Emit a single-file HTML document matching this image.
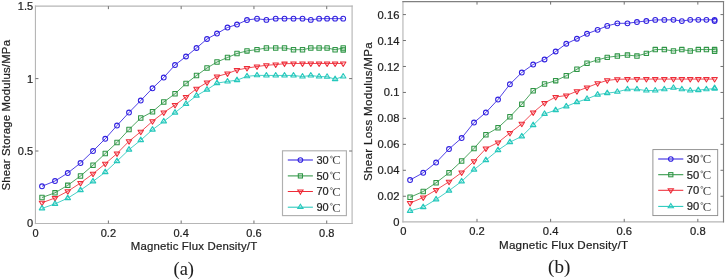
<!DOCTYPE html>
<html><head><meta charset="utf-8"><title>Shear modulus vs magnetic flux density</title>
<style>
html,body{margin:0;padding:0;background:#fff;}
body{width:725px;height:280px;overflow:hidden;font-family:"Liberation Sans",sans-serif;}
svg{display:block;opacity:0.999;will-change:transform;}
svg text{font-family:"Liberation Sans",sans-serif;fill:#1e1e1e;stroke:#1e1e1e;stroke-width:0.22px;}
svg text.sf{font-family:"Liberation Serif",serif;stroke-width:0.08px;}
svg text.dc{font-family:"Liberation Serif",serif;fill:#3c3c3c;stroke:none;}
</style></head>
<body>
<svg width="725" height="280" viewBox="0 0 725 280">
<rect width="725" height="280" fill="#fff"/>
<g fill="none"><path d="M35.45 5.58V224.07" stroke="#b6b6b6" stroke-width="1.15"/>
<path d="M34.88 223.5H352.68" stroke="#b6b6b6" stroke-width="1.15"/>
<path d="M34.88 6.15H352.68" stroke="#b6b6b6" stroke-width="1.15"/>
<path d="M352.1 5.58V224.07" stroke="#b6b6b6" stroke-width="1.15"/>
<path d="M108.38 223.5v-3.0M108.38 6.15v3.0M181.16 223.5v-3.0M181.16 6.15v3.0M253.94 223.5v-3.0M253.94 6.15v3.0M326.73 223.5v-3.0M326.73 6.15v3.0M35.45 151h3.0M352.1 151h-3.0M35.45 78.6h3.0M352.1 78.6h-3.0" stroke="#707070" stroke-width="1"/></g>
<g fill="none" stroke-width="1.05" stroke-linejoin="round">
<polyline points="42,186.25 55,181 67.75,173 80.5,163 93,151 105.25,138.75 117,125.5 129,112.5 140.75,100.5 152.5,88.25 163.75,77.5 175,65 186,56.5 196.5,48 207,39 217,33.5 227.5,27.5 237,24.5 247,20 257,18.7 266.4,19.9 275.7,18.65 284.5,18.65 293.5,18.65 302.5,18.65 310.8,19.9 319.1,18.65 327.1,18.65 335.1,18.65 343.2,18.65" stroke="#3020e0" stroke-width="0.85"/>
<circle cx="42" cy="186.25" r="2.4" stroke="#3020e0"/>
<circle cx="55" cy="181" r="2.4" stroke="#3020e0"/>
<circle cx="67.75" cy="173" r="2.4" stroke="#3020e0"/>
<circle cx="80.5" cy="163" r="2.4" stroke="#3020e0"/>
<circle cx="93" cy="151" r="2.4" stroke="#3020e0"/>
<circle cx="105.25" cy="138.75" r="2.4" stroke="#3020e0"/>
<circle cx="117" cy="125.5" r="2.4" stroke="#3020e0"/>
<circle cx="129" cy="112.5" r="2.4" stroke="#3020e0"/>
<circle cx="140.75" cy="100.5" r="2.4" stroke="#3020e0"/>
<circle cx="152.5" cy="88.25" r="2.4" stroke="#3020e0"/>
<circle cx="163.75" cy="77.5" r="2.4" stroke="#3020e0"/>
<circle cx="175" cy="65" r="2.4" stroke="#3020e0"/>
<circle cx="186" cy="56.5" r="2.4" stroke="#3020e0"/>
<circle cx="196.5" cy="48" r="2.4" stroke="#3020e0"/>
<circle cx="207" cy="39" r="2.4" stroke="#3020e0"/>
<circle cx="217" cy="33.5" r="2.4" stroke="#3020e0"/>
<circle cx="227.5" cy="27.5" r="2.4" stroke="#3020e0"/>
<circle cx="237" cy="24.5" r="2.4" stroke="#3020e0"/>
<circle cx="247" cy="20" r="2.4" stroke="#3020e0"/>
<circle cx="257" cy="18.7" r="2.4" stroke="#3020e0"/>
<circle cx="266.4" cy="19.9" r="2.4" stroke="#3020e0"/>
<circle cx="275.7" cy="18.65" r="2.4" stroke="#3020e0"/>
<circle cx="284.5" cy="18.65" r="2.4" stroke="#3020e0"/>
<circle cx="293.5" cy="18.65" r="2.4" stroke="#3020e0"/>
<circle cx="302.5" cy="18.65" r="2.4" stroke="#3020e0"/>
<circle cx="310.8" cy="19.9" r="2.4" stroke="#3020e0"/>
<circle cx="319.1" cy="18.65" r="2.4" stroke="#3020e0"/>
<circle cx="327.1" cy="18.65" r="2.4" stroke="#3020e0"/>
<circle cx="335.1" cy="18.65" r="2.4" stroke="#3020e0"/>
<circle cx="343.2" cy="18.65" r="2.4" stroke="#3020e0"/>
<polyline points="42,197.5 55,192.8 67.75,185.3 80.5,176 93,165.2 105.25,153.5 117,142.5 129,129.5 140.75,118 152.5,111.75 163.75,102 175,93.75 186,83.5 196.5,75.5 207,68 217,62 227.5,57.5 237,53.5 247,50.9 257,49.6 266.4,48 275.7,48 284.5,48 293.5,49.7 302.5,49.7 310.8,48 319.1,48 327.1,48 335.1,49.7 343.2,48" stroke="#2f9646" stroke-width="0.85"/>
<rect x="39.8" y="195.3" width="4.4" height="4.4" stroke="#2f9646" fill="#2f9646" fill-opacity="0.1"/>
<rect x="52.8" y="190.6" width="4.4" height="4.4" stroke="#2f9646" fill="#2f9646" fill-opacity="0.1"/>
<rect x="65.55" y="183.1" width="4.4" height="4.4" stroke="#2f9646" fill="#2f9646" fill-opacity="0.1"/>
<rect x="78.3" y="173.8" width="4.4" height="4.4" stroke="#2f9646" fill="#2f9646" fill-opacity="0.1"/>
<rect x="90.8" y="163" width="4.4" height="4.4" stroke="#2f9646" fill="#2f9646" fill-opacity="0.1"/>
<rect x="103.05" y="151.3" width="4.4" height="4.4" stroke="#2f9646" fill="#2f9646" fill-opacity="0.1"/>
<rect x="114.8" y="140.3" width="4.4" height="4.4" stroke="#2f9646" fill="#2f9646" fill-opacity="0.1"/>
<rect x="126.8" y="127.3" width="4.4" height="4.4" stroke="#2f9646" fill="#2f9646" fill-opacity="0.1"/>
<rect x="138.55" y="115.8" width="4.4" height="4.4" stroke="#2f9646" fill="#2f9646" fill-opacity="0.1"/>
<rect x="150.3" y="109.55" width="4.4" height="4.4" stroke="#2f9646" fill="#2f9646" fill-opacity="0.1"/>
<rect x="161.55" y="99.8" width="4.4" height="4.4" stroke="#2f9646" fill="#2f9646" fill-opacity="0.1"/>
<rect x="172.8" y="91.55" width="4.4" height="4.4" stroke="#2f9646" fill="#2f9646" fill-opacity="0.1"/>
<rect x="183.8" y="81.3" width="4.4" height="4.4" stroke="#2f9646" fill="#2f9646" fill-opacity="0.1"/>
<rect x="194.3" y="73.3" width="4.4" height="4.4" stroke="#2f9646" fill="#2f9646" fill-opacity="0.1"/>
<rect x="204.8" y="65.8" width="4.4" height="4.4" stroke="#2f9646" fill="#2f9646" fill-opacity="0.1"/>
<rect x="214.8" y="59.8" width="4.4" height="4.4" stroke="#2f9646" fill="#2f9646" fill-opacity="0.1"/>
<rect x="225.3" y="55.3" width="4.4" height="4.4" stroke="#2f9646" fill="#2f9646" fill-opacity="0.1"/>
<rect x="234.8" y="51.3" width="4.4" height="4.4" stroke="#2f9646" fill="#2f9646" fill-opacity="0.1"/>
<rect x="244.8" y="48.7" width="4.4" height="4.4" stroke="#2f9646" fill="#2f9646" fill-opacity="0.1"/>
<rect x="254.8" y="47.4" width="4.4" height="4.4" stroke="#2f9646" fill="#2f9646" fill-opacity="0.1"/>
<rect x="264.2" y="45.8" width="4.4" height="4.4" stroke="#2f9646" fill="#2f9646" fill-opacity="0.1"/>
<rect x="273.5" y="45.8" width="4.4" height="4.4" stroke="#2f9646" fill="#2f9646" fill-opacity="0.1"/>
<rect x="282.3" y="45.8" width="4.4" height="4.4" stroke="#2f9646" fill="#2f9646" fill-opacity="0.1"/>
<rect x="291.3" y="47.5" width="4.4" height="4.4" stroke="#2f9646" fill="#2f9646" fill-opacity="0.1"/>
<rect x="300.3" y="47.5" width="4.4" height="4.4" stroke="#2f9646" fill="#2f9646" fill-opacity="0.1"/>
<rect x="308.6" y="45.8" width="4.4" height="4.4" stroke="#2f9646" fill="#2f9646" fill-opacity="0.1"/>
<rect x="316.9" y="45.8" width="4.4" height="4.4" stroke="#2f9646" fill="#2f9646" fill-opacity="0.1"/>
<rect x="324.9" y="45.8" width="4.4" height="4.4" stroke="#2f9646" fill="#2f9646" fill-opacity="0.1"/>
<rect x="332.9" y="47.5" width="4.4" height="4.4" stroke="#2f9646" fill="#2f9646" fill-opacity="0.1"/>
<rect x="341" y="45.8" width="4.4" height="4.4" stroke="#2f9646" fill="#2f9646" fill-opacity="0.1"/>
<rect x="341" y="47.7" width="4.4" height="4.4" stroke="#2f9646" fill="#2f9646" fill-opacity="0.1"/>
<polyline points="42,202.75 55,198 67.75,191.25 80.5,183 93,173.75 105.25,163.75 117,153.5 129,141.25 140.75,131.75 152.5,121.25 163.75,112.5 175,105 186,97 196.5,88.75 207,82.5 217,76.5 227.5,73.5 237,70 247,68.1 257,66.5 266.4,65.3 275.7,64.6 284.5,63.7 293.5,63.5 302.5,63.5 310.8,63.5 319.1,63.5 327.1,63.5 335.1,63.5 343.2,63.5" stroke="#ee2c38" stroke-width="0.85"/>
<path d="M39.25 201.15H44.75L42 205.65Z" stroke="#ee2c38" fill="#ee2c38" fill-opacity="0.12"/>
<path d="M52.25 196.4H57.75L55 200.9Z" stroke="#ee2c38" fill="#ee2c38" fill-opacity="0.12"/>
<path d="M65 189.65H70.5L67.75 194.15Z" stroke="#ee2c38" fill="#ee2c38" fill-opacity="0.12"/>
<path d="M77.75 181.4H83.25L80.5 185.9Z" stroke="#ee2c38" fill="#ee2c38" fill-opacity="0.12"/>
<path d="M90.25 172.15H95.75L93 176.65Z" stroke="#ee2c38" fill="#ee2c38" fill-opacity="0.12"/>
<path d="M102.5 162.15H108L105.25 166.65Z" stroke="#ee2c38" fill="#ee2c38" fill-opacity="0.12"/>
<path d="M114.25 151.9H119.75L117 156.4Z" stroke="#ee2c38" fill="#ee2c38" fill-opacity="0.12"/>
<path d="M126.25 139.65H131.75L129 144.15Z" stroke="#ee2c38" fill="#ee2c38" fill-opacity="0.12"/>
<path d="M138 130.15H143.5L140.75 134.65Z" stroke="#ee2c38" fill="#ee2c38" fill-opacity="0.12"/>
<path d="M149.75 119.65H155.25L152.5 124.15Z" stroke="#ee2c38" fill="#ee2c38" fill-opacity="0.12"/>
<path d="M161 110.9H166.5L163.75 115.4Z" stroke="#ee2c38" fill="#ee2c38" fill-opacity="0.12"/>
<path d="M172.25 103.4H177.75L175 107.9Z" stroke="#ee2c38" fill="#ee2c38" fill-opacity="0.12"/>
<path d="M183.25 95.4H188.75L186 99.9Z" stroke="#ee2c38" fill="#ee2c38" fill-opacity="0.12"/>
<path d="M193.75 87.15H199.25L196.5 91.65Z" stroke="#ee2c38" fill="#ee2c38" fill-opacity="0.12"/>
<path d="M204.25 80.9H209.75L207 85.4Z" stroke="#ee2c38" fill="#ee2c38" fill-opacity="0.12"/>
<path d="M214.25 74.9H219.75L217 79.4Z" stroke="#ee2c38" fill="#ee2c38" fill-opacity="0.12"/>
<path d="M224.75 71.9H230.25L227.5 76.4Z" stroke="#ee2c38" fill="#ee2c38" fill-opacity="0.12"/>
<path d="M234.25 68.4H239.75L237 72.9Z" stroke="#ee2c38" fill="#ee2c38" fill-opacity="0.12"/>
<path d="M244.25 66.5H249.75L247 71Z" stroke="#ee2c38" fill="#ee2c38" fill-opacity="0.12"/>
<path d="M254.25 64.9H259.75L257 69.4Z" stroke="#ee2c38" fill="#ee2c38" fill-opacity="0.12"/>
<path d="M263.65 63.7H269.15L266.4 68.2Z" stroke="#ee2c38" fill="#ee2c38" fill-opacity="0.12"/>
<path d="M272.95 63H278.45L275.7 67.5Z" stroke="#ee2c38" fill="#ee2c38" fill-opacity="0.12"/>
<path d="M281.75 62.1H287.25L284.5 66.6Z" stroke="#ee2c38" fill="#ee2c38" fill-opacity="0.12"/>
<path d="M290.75 61.9H296.25L293.5 66.4Z" stroke="#ee2c38" fill="#ee2c38" fill-opacity="0.12"/>
<path d="M299.75 61.9H305.25L302.5 66.4Z" stroke="#ee2c38" fill="#ee2c38" fill-opacity="0.12"/>
<path d="M308.05 61.9H313.55L310.8 66.4Z" stroke="#ee2c38" fill="#ee2c38" fill-opacity="0.12"/>
<path d="M316.35 61.9H321.85L319.1 66.4Z" stroke="#ee2c38" fill="#ee2c38" fill-opacity="0.12"/>
<path d="M324.35 61.9H329.85L327.1 66.4Z" stroke="#ee2c38" fill="#ee2c38" fill-opacity="0.12"/>
<path d="M332.35 61.9H337.85L335.1 66.4Z" stroke="#ee2c38" fill="#ee2c38" fill-opacity="0.12"/>
<path d="M340.45 61.9H345.95L343.2 66.4Z" stroke="#ee2c38" fill="#ee2c38" fill-opacity="0.12"/>
<polyline points="42,208.4 55,203.9 67.75,198.15 80.5,190.15 93,181.4 105.25,172.15 117,161.15 129,149.65 140.75,140.15 152.5,129.65 163.75,121.4 175,112.65 186,103.9 196.5,95.65 207,89.65 217,83.15 227.5,81.45 237,80.15 247,76.35 257,75.35 266.4,75.45 275.7,75.45 284.5,75.45 293.5,75.45 302.5,76.55 310.8,75.45 319.1,76.55 327.1,76.75 335.1,79.15 343.2,76.55" stroke="#25c8bc" stroke-width="0.85"/>
<path d="M39.25 209.85H44.75L42 205.4Z" stroke="#25c8bc" fill="#25c8bc" fill-opacity="0.12"/>
<path d="M52.25 205.35H57.75L55 200.9Z" stroke="#25c8bc" fill="#25c8bc" fill-opacity="0.12"/>
<path d="M65 199.6H70.5L67.75 195.15Z" stroke="#25c8bc" fill="#25c8bc" fill-opacity="0.12"/>
<path d="M77.75 191.6H83.25L80.5 187.15Z" stroke="#25c8bc" fill="#25c8bc" fill-opacity="0.12"/>
<path d="M90.25 182.85H95.75L93 178.4Z" stroke="#25c8bc" fill="#25c8bc" fill-opacity="0.12"/>
<path d="M102.5 173.6H108L105.25 169.15Z" stroke="#25c8bc" fill="#25c8bc" fill-opacity="0.12"/>
<path d="M114.25 162.6H119.75L117 158.15Z" stroke="#25c8bc" fill="#25c8bc" fill-opacity="0.12"/>
<path d="M126.25 151.1H131.75L129 146.65Z" stroke="#25c8bc" fill="#25c8bc" fill-opacity="0.12"/>
<path d="M138 141.6H143.5L140.75 137.15Z" stroke="#25c8bc" fill="#25c8bc" fill-opacity="0.12"/>
<path d="M149.75 131.1H155.25L152.5 126.65Z" stroke="#25c8bc" fill="#25c8bc" fill-opacity="0.12"/>
<path d="M161 122.85H166.5L163.75 118.4Z" stroke="#25c8bc" fill="#25c8bc" fill-opacity="0.12"/>
<path d="M172.25 114.1H177.75L175 109.65Z" stroke="#25c8bc" fill="#25c8bc" fill-opacity="0.12"/>
<path d="M183.25 105.35H188.75L186 100.9Z" stroke="#25c8bc" fill="#25c8bc" fill-opacity="0.12"/>
<path d="M193.75 97.1H199.25L196.5 92.65Z" stroke="#25c8bc" fill="#25c8bc" fill-opacity="0.12"/>
<path d="M204.25 91.1H209.75L207 86.65Z" stroke="#25c8bc" fill="#25c8bc" fill-opacity="0.12"/>
<path d="M214.25 84.6H219.75L217 80.15Z" stroke="#25c8bc" fill="#25c8bc" fill-opacity="0.12"/>
<path d="M224.75 82.9H230.25L227.5 78.45Z" stroke="#25c8bc" fill="#25c8bc" fill-opacity="0.12"/>
<path d="M234.25 81.6H239.75L237 77.15Z" stroke="#25c8bc" fill="#25c8bc" fill-opacity="0.12"/>
<path d="M244.25 77.8H249.75L247 73.35Z" stroke="#25c8bc" fill="#25c8bc" fill-opacity="0.12"/>
<path d="M254.25 76.8H259.75L257 72.35Z" stroke="#25c8bc" fill="#25c8bc" fill-opacity="0.12"/>
<path d="M263.65 76.9H269.15L266.4 72.45Z" stroke="#25c8bc" fill="#25c8bc" fill-opacity="0.12"/>
<path d="M272.95 76.9H278.45L275.7 72.45Z" stroke="#25c8bc" fill="#25c8bc" fill-opacity="0.12"/>
<path d="M281.75 76.9H287.25L284.5 72.45Z" stroke="#25c8bc" fill="#25c8bc" fill-opacity="0.12"/>
<path d="M290.75 76.9H296.25L293.5 72.45Z" stroke="#25c8bc" fill="#25c8bc" fill-opacity="0.12"/>
<path d="M299.75 78H305.25L302.5 73.55Z" stroke="#25c8bc" fill="#25c8bc" fill-opacity="0.12"/>
<path d="M308.05 76.9H313.55L310.8 72.45Z" stroke="#25c8bc" fill="#25c8bc" fill-opacity="0.12"/>
<path d="M316.35 78H321.85L319.1 73.55Z" stroke="#25c8bc" fill="#25c8bc" fill-opacity="0.12"/>
<path d="M324.35 78.2H329.85L327.1 73.75Z" stroke="#25c8bc" fill="#25c8bc" fill-opacity="0.12"/>
<path d="M332.35 80.6H337.85L335.1 76.15Z" stroke="#25c8bc" fill="#25c8bc" fill-opacity="0.12"/>
<path d="M340.45 78H345.95L343.2 73.55Z" stroke="#25c8bc" fill="#25c8bc" fill-opacity="0.12"/>
</g>
<text x="35.6" y="236.7" text-anchor="middle" font-size="11">0</text>
<text x="108.38" y="236.7" text-anchor="middle" font-size="11">0.2</text>
<text x="181.16" y="236.7" text-anchor="middle" font-size="11">0.4</text>
<text x="253.94" y="236.7" text-anchor="middle" font-size="11">0.6</text>
<text x="326.73" y="236.7" text-anchor="middle" font-size="11">0.8</text>
<text x="33.1" y="227.36" text-anchor="end" font-size="11">0</text>
<text x="33.1" y="154.96" text-anchor="end" font-size="11">0.5</text>
<text x="33.1" y="82.56" text-anchor="end" font-size="11">1</text>
<text x="33.1" y="10.16" text-anchor="end" font-size="11">1.5</text>
<rect x="282.5" y="150.8" width="63.9" height="64.8" fill="#fff" stroke="#b0b0b0" stroke-width="1.15"/>
<g fill="none" stroke-width="1.05"><path d="M287.8 160H312.9" stroke="#3020e0"/><circle cx="300.4" cy="160" r="2.3" stroke="#3020e0"/></g>
<text x="316.4" y="163.96" font-size="11">30</text>
<circle cx="331.4" cy="157.1" r="1.0" fill="none" stroke="#4a4a4a" stroke-width="0.6"/>
<text class="dc" x="332.3" y="164.3" font-size="12.6">C</text>
<g fill="none" stroke-width="1.05"><path d="M287.8 175.9H312.9" stroke="#2f9646"/><rect x="298.3" y="173.8" width="4.2" height="4.2" stroke="#2f9646" fill="#2f9646" fill-opacity="0.1"/></g>
<text x="316.4" y="179.86" font-size="11">50</text>
<circle cx="331.4" cy="173" r="1.0" fill="none" stroke="#4a4a4a" stroke-width="0.6"/>
<text class="dc" x="332.3" y="180.2" font-size="12.6">C</text>
<g fill="none" stroke-width="1.05"><path d="M287.8 191.5H312.9" stroke="#ee2c38"/><path d="M297.76 189.97H303.04L300.4 194.28Z" stroke="#ee2c38" fill="#ee2c38" fill-opacity="0.12"/></g>
<text x="316.4" y="195.46" font-size="11">70</text>
<circle cx="331.4" cy="188.6" r="1.0" fill="none" stroke="#4a4a4a" stroke-width="0.6"/>
<text class="dc" x="332.3" y="195.8" font-size="12.6">C</text>
<g fill="none" stroke-width="1.05"><path d="M287.8 207.2H312.9" stroke="#25c8bc"/><path d="M297.76 208.59H303.04L300.4 204.32Z" stroke="#25c8bc" fill="#25c8bc" fill-opacity="0.12"/></g>
<text x="316.4" y="211.16" font-size="11">90</text>
<circle cx="331.4" cy="204.3" r="1.0" fill="none" stroke="#4a4a4a" stroke-width="0.6"/>
<text class="dc" x="332.3" y="211.5" font-size="12.6">C</text>
<text x="130.8" y="250" textLength="126.3" lengthAdjust="spacing" font-size="11.4">Magnetic Flux Density/T</text>
<text transform="translate(10.4 190.6) rotate(-90)" textLength="150.6" lengthAdjust="spacing" font-size="11.4">Shear Storage Modulus/MPa</text>
<text x="183.8" y="274.8" text-anchor="middle" font-size="18.4" class="sf">(a)</text>
<g fill="none"><path d="M402.95 1.03V222.42" stroke="#b6b6b6" stroke-width="1.15"/>
<path d="M402.38 221.85H724.08" stroke="#b6b6b6" stroke-width="1.15"/>
<path d="M402.38 1.6H724.08" stroke="#808080" stroke-width="1.15"/>
<path d="M723.5 1.03V222.42" stroke="#808080" stroke-width="1.15"/>
<path d="M477.01 221.85v-3.0M477.01 1.6v3.0M550.62 221.85v-3.0M550.62 1.6v3.0M624.23 221.85v-3.0M624.23 1.6v3.0M697.84 221.85v-3.0M697.84 1.6v3.0M402.95 196.25h3.0M723.5 196.25h-3.0M402.95 170.29h3.0M723.5 170.29h-3.0M402.95 144.34h3.0M723.5 144.34h-3.0M402.95 118.39h3.0M723.5 118.39h-3.0M402.95 92.44h3.0M723.5 92.44h-3.0M402.95 66.48h3.0M723.5 66.48h-3.0M402.95 40.53h3.0M723.5 40.53h-3.0M402.95 14.58h3.0M723.5 14.58h-3.0" stroke="#707070" stroke-width="1"/></g>
<g fill="none" stroke-width="1.05" stroke-linejoin="round">
<polyline points="410.07,180 423.22,172.75 436.11,162.5 449,149 461.64,138 474.02,122.5 485.9,112.5 498.03,99.5 509.91,84.25 521.79,72.5 533.17,64.5 544.54,59.5 555.66,51.5 566.28,43.75 576.9,38.75 587.01,33.75 597.62,29.8 607.23,25.9 617.34,23.3 627.45,23.3 636.95,22 646.36,21 655.25,19.9 664.35,19.9 673.45,19.8 681.84,21.1 690.24,19.8 698.32,19.8 706.41,19.8 714.6,19.8" stroke="#3020e0" stroke-width="0.85"/>
<circle cx="410.07" cy="180" r="2.4" stroke="#3020e0"/>
<circle cx="423.22" cy="172.75" r="2.4" stroke="#3020e0"/>
<circle cx="436.11" cy="162.5" r="2.4" stroke="#3020e0"/>
<circle cx="449" cy="149" r="2.4" stroke="#3020e0"/>
<circle cx="461.64" cy="138" r="2.4" stroke="#3020e0"/>
<circle cx="474.02" cy="122.5" r="2.4" stroke="#3020e0"/>
<circle cx="485.9" cy="112.5" r="2.4" stroke="#3020e0"/>
<circle cx="498.03" cy="99.5" r="2.4" stroke="#3020e0"/>
<circle cx="509.91" cy="84.25" r="2.4" stroke="#3020e0"/>
<circle cx="521.79" cy="72.5" r="2.4" stroke="#3020e0"/>
<circle cx="533.17" cy="64.5" r="2.4" stroke="#3020e0"/>
<circle cx="544.54" cy="59.5" r="2.4" stroke="#3020e0"/>
<circle cx="555.66" cy="51.5" r="2.4" stroke="#3020e0"/>
<circle cx="566.28" cy="43.75" r="2.4" stroke="#3020e0"/>
<circle cx="576.9" cy="38.75" r="2.4" stroke="#3020e0"/>
<circle cx="587.01" cy="33.75" r="2.4" stroke="#3020e0"/>
<circle cx="597.62" cy="29.8" r="2.4" stroke="#3020e0"/>
<circle cx="607.23" cy="25.9" r="2.4" stroke="#3020e0"/>
<circle cx="617.34" cy="23.3" r="2.4" stroke="#3020e0"/>
<circle cx="627.45" cy="23.3" r="2.4" stroke="#3020e0"/>
<circle cx="636.95" cy="22" r="2.4" stroke="#3020e0"/>
<circle cx="646.36" cy="21" r="2.4" stroke="#3020e0"/>
<circle cx="655.25" cy="19.9" r="2.4" stroke="#3020e0"/>
<circle cx="664.35" cy="19.9" r="2.4" stroke="#3020e0"/>
<circle cx="673.45" cy="19.8" r="2.4" stroke="#3020e0"/>
<circle cx="681.84" cy="21.1" r="2.4" stroke="#3020e0"/>
<circle cx="690.24" cy="19.8" r="2.4" stroke="#3020e0"/>
<circle cx="698.32" cy="19.8" r="2.4" stroke="#3020e0"/>
<circle cx="706.41" cy="19.8" r="2.4" stroke="#3020e0"/>
<circle cx="714.6" cy="19.8" r="2.4" stroke="#3020e0"/>
<circle cx="714.6" cy="21" r="2.4" stroke="#3020e0"/>
<polyline points="410.07,197.25 423.22,191.5 436.11,182.75 449,172.75 461.64,161 474.02,148.45 485.9,134.75 498.03,127.75 509.91,116.75 521.79,104.25 533.17,90.75 544.54,84 555.66,80.65 566.28,75.75 576.9,69.25 587.01,63.25 597.62,59.85 607.23,57.35 617.34,56.05 627.45,55.05 636.95,56.05 646.36,53.35 655.25,49.55 664.35,49.55 673.45,50.95 681.84,49.55 690.24,50.95 698.32,49.55 706.41,49.55 714.6,49.55" stroke="#2f9646" stroke-width="0.85"/>
<rect x="407.87" y="195.05" width="4.4" height="4.4" stroke="#2f9646" fill="#2f9646" fill-opacity="0.1"/>
<rect x="421.02" y="189.3" width="4.4" height="4.4" stroke="#2f9646" fill="#2f9646" fill-opacity="0.1"/>
<rect x="433.91" y="180.55" width="4.4" height="4.4" stroke="#2f9646" fill="#2f9646" fill-opacity="0.1"/>
<rect x="446.8" y="170.55" width="4.4" height="4.4" stroke="#2f9646" fill="#2f9646" fill-opacity="0.1"/>
<rect x="459.44" y="158.8" width="4.4" height="4.4" stroke="#2f9646" fill="#2f9646" fill-opacity="0.1"/>
<rect x="471.82" y="146.25" width="4.4" height="4.4" stroke="#2f9646" fill="#2f9646" fill-opacity="0.1"/>
<rect x="483.7" y="132.55" width="4.4" height="4.4" stroke="#2f9646" fill="#2f9646" fill-opacity="0.1"/>
<rect x="495.83" y="125.55" width="4.4" height="4.4" stroke="#2f9646" fill="#2f9646" fill-opacity="0.1"/>
<rect x="507.71" y="114.55" width="4.4" height="4.4" stroke="#2f9646" fill="#2f9646" fill-opacity="0.1"/>
<rect x="519.59" y="102.05" width="4.4" height="4.4" stroke="#2f9646" fill="#2f9646" fill-opacity="0.1"/>
<rect x="530.97" y="88.55" width="4.4" height="4.4" stroke="#2f9646" fill="#2f9646" fill-opacity="0.1"/>
<rect x="542.34" y="81.8" width="4.4" height="4.4" stroke="#2f9646" fill="#2f9646" fill-opacity="0.1"/>
<rect x="553.46" y="78.45" width="4.4" height="4.4" stroke="#2f9646" fill="#2f9646" fill-opacity="0.1"/>
<rect x="564.08" y="73.55" width="4.4" height="4.4" stroke="#2f9646" fill="#2f9646" fill-opacity="0.1"/>
<rect x="574.7" y="67.05" width="4.4" height="4.4" stroke="#2f9646" fill="#2f9646" fill-opacity="0.1"/>
<rect x="584.81" y="61.05" width="4.4" height="4.4" stroke="#2f9646" fill="#2f9646" fill-opacity="0.1"/>
<rect x="595.42" y="57.65" width="4.4" height="4.4" stroke="#2f9646" fill="#2f9646" fill-opacity="0.1"/>
<rect x="605.03" y="55.15" width="4.4" height="4.4" stroke="#2f9646" fill="#2f9646" fill-opacity="0.1"/>
<rect x="615.14" y="53.85" width="4.4" height="4.4" stroke="#2f9646" fill="#2f9646" fill-opacity="0.1"/>
<rect x="625.25" y="52.85" width="4.4" height="4.4" stroke="#2f9646" fill="#2f9646" fill-opacity="0.1"/>
<rect x="634.75" y="53.85" width="4.4" height="4.4" stroke="#2f9646" fill="#2f9646" fill-opacity="0.1"/>
<rect x="644.16" y="51.15" width="4.4" height="4.4" stroke="#2f9646" fill="#2f9646" fill-opacity="0.1"/>
<rect x="653.05" y="47.35" width="4.4" height="4.4" stroke="#2f9646" fill="#2f9646" fill-opacity="0.1"/>
<rect x="662.15" y="47.35" width="4.4" height="4.4" stroke="#2f9646" fill="#2f9646" fill-opacity="0.1"/>
<rect x="671.25" y="48.75" width="4.4" height="4.4" stroke="#2f9646" fill="#2f9646" fill-opacity="0.1"/>
<rect x="679.64" y="47.35" width="4.4" height="4.4" stroke="#2f9646" fill="#2f9646" fill-opacity="0.1"/>
<rect x="688.04" y="48.75" width="4.4" height="4.4" stroke="#2f9646" fill="#2f9646" fill-opacity="0.1"/>
<rect x="696.12" y="47.35" width="4.4" height="4.4" stroke="#2f9646" fill="#2f9646" fill-opacity="0.1"/>
<rect x="704.21" y="47.35" width="4.4" height="4.4" stroke="#2f9646" fill="#2f9646" fill-opacity="0.1"/>
<rect x="712.4" y="47.35" width="4.4" height="4.4" stroke="#2f9646" fill="#2f9646" fill-opacity="0.1"/>
<rect x="712.4" y="49" width="4.4" height="4.4" stroke="#2f9646" fill="#2f9646" fill-opacity="0.1"/>
<polyline points="410.07,203 423.22,197.5 436.11,190 449,181.75 461.64,172.5 474.02,161.25 485.9,148.6 498.03,142.5 509.91,133 521.79,123.75 533.17,112.5 544.54,103 555.66,97 566.28,95.5 576.9,91.25 587.01,87.5 597.62,83.4 607.23,80.4 617.34,79.3 627.45,79.1 636.95,79.1 646.36,79.1 655.25,79.1 664.35,79.1 673.45,79.1 681.84,79.1 690.24,79.1 698.32,79.1 706.41,79.1 714.6,79.1" stroke="#ee2c38" stroke-width="0.85"/>
<path d="M407.32 201.4H412.82L410.07 205.9Z" stroke="#ee2c38" fill="#ee2c38" fill-opacity="0.12"/>
<path d="M420.47 195.9H425.97L423.22 200.4Z" stroke="#ee2c38" fill="#ee2c38" fill-opacity="0.12"/>
<path d="M433.36 188.4H438.86L436.11 192.9Z" stroke="#ee2c38" fill="#ee2c38" fill-opacity="0.12"/>
<path d="M446.25 180.15H451.75L449 184.65Z" stroke="#ee2c38" fill="#ee2c38" fill-opacity="0.12"/>
<path d="M458.89 170.9H464.39L461.64 175.4Z" stroke="#ee2c38" fill="#ee2c38" fill-opacity="0.12"/>
<path d="M471.27 159.65H476.77L474.02 164.15Z" stroke="#ee2c38" fill="#ee2c38" fill-opacity="0.12"/>
<path d="M483.15 147H488.65L485.9 151.5Z" stroke="#ee2c38" fill="#ee2c38" fill-opacity="0.12"/>
<path d="M495.28 140.9H500.78L498.03 145.4Z" stroke="#ee2c38" fill="#ee2c38" fill-opacity="0.12"/>
<path d="M507.16 131.4H512.66L509.91 135.9Z" stroke="#ee2c38" fill="#ee2c38" fill-opacity="0.12"/>
<path d="M519.04 122.15H524.54L521.79 126.65Z" stroke="#ee2c38" fill="#ee2c38" fill-opacity="0.12"/>
<path d="M530.42 110.9H535.92L533.17 115.4Z" stroke="#ee2c38" fill="#ee2c38" fill-opacity="0.12"/>
<path d="M541.79 101.4H547.29L544.54 105.9Z" stroke="#ee2c38" fill="#ee2c38" fill-opacity="0.12"/>
<path d="M552.91 95.4H558.41L555.66 99.9Z" stroke="#ee2c38" fill="#ee2c38" fill-opacity="0.12"/>
<path d="M563.53 93.9H569.03L566.28 98.4Z" stroke="#ee2c38" fill="#ee2c38" fill-opacity="0.12"/>
<path d="M574.15 89.65H579.65L576.9 94.15Z" stroke="#ee2c38" fill="#ee2c38" fill-opacity="0.12"/>
<path d="M584.26 85.9H589.76L587.01 90.4Z" stroke="#ee2c38" fill="#ee2c38" fill-opacity="0.12"/>
<path d="M594.87 81.8H600.37L597.62 86.3Z" stroke="#ee2c38" fill="#ee2c38" fill-opacity="0.12"/>
<path d="M604.48 78.8H609.98L607.23 83.3Z" stroke="#ee2c38" fill="#ee2c38" fill-opacity="0.12"/>
<path d="M614.59 77.7H620.09L617.34 82.2Z" stroke="#ee2c38" fill="#ee2c38" fill-opacity="0.12"/>
<path d="M624.7 77.5H630.2L627.45 82Z" stroke="#ee2c38" fill="#ee2c38" fill-opacity="0.12"/>
<path d="M634.2 77.5H639.7L636.95 82Z" stroke="#ee2c38" fill="#ee2c38" fill-opacity="0.12"/>
<path d="M643.61 77.5H649.11L646.36 82Z" stroke="#ee2c38" fill="#ee2c38" fill-opacity="0.12"/>
<path d="M652.5 77.5H658L655.25 82Z" stroke="#ee2c38" fill="#ee2c38" fill-opacity="0.12"/>
<path d="M661.6 77.5H667.1L664.35 82Z" stroke="#ee2c38" fill="#ee2c38" fill-opacity="0.12"/>
<path d="M670.7 77.5H676.2L673.45 82Z" stroke="#ee2c38" fill="#ee2c38" fill-opacity="0.12"/>
<path d="M679.09 77.5H684.59L681.84 82Z" stroke="#ee2c38" fill="#ee2c38" fill-opacity="0.12"/>
<path d="M687.49 77.5H692.99L690.24 82Z" stroke="#ee2c38" fill="#ee2c38" fill-opacity="0.12"/>
<path d="M695.57 77.5H701.07L698.32 82Z" stroke="#ee2c38" fill="#ee2c38" fill-opacity="0.12"/>
<path d="M703.66 77.5H709.16L706.41 82Z" stroke="#ee2c38" fill="#ee2c38" fill-opacity="0.12"/>
<path d="M711.85 77.5H717.35L714.6 82Z" stroke="#ee2c38" fill="#ee2c38" fill-opacity="0.12"/>
<polyline points="410.07,210.9 423.22,207.15 436.11,199.4 449,190.65 461.64,181.4 474.02,169.65 485.9,160.15 498.03,150.15 509.91,142.15 521.79,136.4 533.17,125.15 544.54,113.9 555.66,110.15 566.28,106.4 576.9,102.15 587.01,98.9 597.62,94.65 607.23,93.15 617.34,91.85 627.45,89.25 636.95,89.25 646.36,90.55 655.25,90.55 664.35,89.25 673.45,87.85 681.84,89.25 690.24,90.55 698.32,90.15 706.41,89.25 714.6,88.65" stroke="#25c8bc" stroke-width="0.85"/>
<path d="M407.32 212.35H412.82L410.07 207.9Z" stroke="#25c8bc" fill="#25c8bc" fill-opacity="0.12"/>
<path d="M420.47 208.6H425.97L423.22 204.15Z" stroke="#25c8bc" fill="#25c8bc" fill-opacity="0.12"/>
<path d="M433.36 200.85H438.86L436.11 196.4Z" stroke="#25c8bc" fill="#25c8bc" fill-opacity="0.12"/>
<path d="M446.25 192.1H451.75L449 187.65Z" stroke="#25c8bc" fill="#25c8bc" fill-opacity="0.12"/>
<path d="M458.89 182.85H464.39L461.64 178.4Z" stroke="#25c8bc" fill="#25c8bc" fill-opacity="0.12"/>
<path d="M471.27 171.1H476.77L474.02 166.65Z" stroke="#25c8bc" fill="#25c8bc" fill-opacity="0.12"/>
<path d="M483.15 161.6H488.65L485.9 157.15Z" stroke="#25c8bc" fill="#25c8bc" fill-opacity="0.12"/>
<path d="M495.28 151.6H500.78L498.03 147.15Z" stroke="#25c8bc" fill="#25c8bc" fill-opacity="0.12"/>
<path d="M507.16 143.6H512.66L509.91 139.15Z" stroke="#25c8bc" fill="#25c8bc" fill-opacity="0.12"/>
<path d="M519.04 137.85H524.54L521.79 133.4Z" stroke="#25c8bc" fill="#25c8bc" fill-opacity="0.12"/>
<path d="M530.42 126.6H535.92L533.17 122.15Z" stroke="#25c8bc" fill="#25c8bc" fill-opacity="0.12"/>
<path d="M541.79 115.35H547.29L544.54 110.9Z" stroke="#25c8bc" fill="#25c8bc" fill-opacity="0.12"/>
<path d="M552.91 111.6H558.41L555.66 107.15Z" stroke="#25c8bc" fill="#25c8bc" fill-opacity="0.12"/>
<path d="M563.53 107.85H569.03L566.28 103.4Z" stroke="#25c8bc" fill="#25c8bc" fill-opacity="0.12"/>
<path d="M574.15 103.6H579.65L576.9 99.15Z" stroke="#25c8bc" fill="#25c8bc" fill-opacity="0.12"/>
<path d="M584.26 100.35H589.76L587.01 95.9Z" stroke="#25c8bc" fill="#25c8bc" fill-opacity="0.12"/>
<path d="M594.87 96.1H600.37L597.62 91.65Z" stroke="#25c8bc" fill="#25c8bc" fill-opacity="0.12"/>
<path d="M604.48 94.6H609.98L607.23 90.15Z" stroke="#25c8bc" fill="#25c8bc" fill-opacity="0.12"/>
<path d="M614.59 93.3H620.09L617.34 88.85Z" stroke="#25c8bc" fill="#25c8bc" fill-opacity="0.12"/>
<path d="M624.7 90.7H630.2L627.45 86.25Z" stroke="#25c8bc" fill="#25c8bc" fill-opacity="0.12"/>
<path d="M634.2 90.7H639.7L636.95 86.25Z" stroke="#25c8bc" fill="#25c8bc" fill-opacity="0.12"/>
<path d="M643.61 92H649.11L646.36 87.55Z" stroke="#25c8bc" fill="#25c8bc" fill-opacity="0.12"/>
<path d="M652.5 92H658L655.25 87.55Z" stroke="#25c8bc" fill="#25c8bc" fill-opacity="0.12"/>
<path d="M661.6 90.7H667.1L664.35 86.25Z" stroke="#25c8bc" fill="#25c8bc" fill-opacity="0.12"/>
<path d="M670.7 89.3H676.2L673.45 84.85Z" stroke="#25c8bc" fill="#25c8bc" fill-opacity="0.12"/>
<path d="M679.09 90.7H684.59L681.84 86.25Z" stroke="#25c8bc" fill="#25c8bc" fill-opacity="0.12"/>
<path d="M687.49 92H692.99L690.24 87.55Z" stroke="#25c8bc" fill="#25c8bc" fill-opacity="0.12"/>
<path d="M695.57 91.6H701.07L698.32 87.15Z" stroke="#25c8bc" fill="#25c8bc" fill-opacity="0.12"/>
<path d="M703.66 90.7H709.16L706.41 86.25Z" stroke="#25c8bc" fill="#25c8bc" fill-opacity="0.12"/>
<path d="M711.85 90.1H717.35L714.6 85.65Z" stroke="#25c8bc" fill="#25c8bc" fill-opacity="0.12"/>
<path d="M711.85 89.45H717.35L714.6 85Z" stroke="#25c8bc" fill="#25c8bc" fill-opacity="0.12"/>
</g>
<text x="403.4" y="235.4" text-anchor="middle" font-size="11.2">0</text>
<text x="477.01" y="235.4" text-anchor="middle" font-size="11.2">0.2</text>
<text x="550.62" y="235.4" text-anchor="middle" font-size="11.2">0.4</text>
<text x="624.23" y="235.4" text-anchor="middle" font-size="11.2">0.6</text>
<text x="697.84" y="235.4" text-anchor="middle" font-size="11.2">0.8</text>
<text x="399.4" y="226.23" text-anchor="end" font-size="11.2">0</text>
<text x="399.4" y="200.28" text-anchor="end" font-size="11.2">0.02</text>
<text x="399.4" y="174.33" text-anchor="end" font-size="11.2">0.04</text>
<text x="399.4" y="148.37" text-anchor="end" font-size="11.2">0.06</text>
<text x="399.4" y="122.42" text-anchor="end" font-size="11.2">0.08</text>
<text x="399.4" y="96.47" text-anchor="end" font-size="11.2">0.1</text>
<text x="399.4" y="70.51" text-anchor="end" font-size="11.2">0.12</text>
<text x="399.4" y="44.56" text-anchor="end" font-size="11.2">0.14</text>
<text x="399.4" y="18.61" text-anchor="end" font-size="11.2">0.16</text>
<rect x="652.9" y="149.6" width="64.8" height="66" fill="#fff" stroke="#8a8a8a" stroke-width="0.9"/>
<g fill="none" stroke-width="1.05"><path d="M658.2 159H683.3" stroke="#3020e0"/><circle cx="670.8" cy="159" r="2.3" stroke="#3020e0"/></g>
<text x="686.8" y="163.03" font-size="11.2">30</text>
<circle cx="701.8" cy="156.1" r="1.0" fill="none" stroke="#4a4a4a" stroke-width="0.6"/>
<text class="dc" x="702.7" y="163.3" font-size="12.6">C</text>
<g fill="none" stroke-width="1.05"><path d="M658.2 174.7H683.3" stroke="#2f9646"/><rect x="668.7" y="172.6" width="4.2" height="4.2" stroke="#2f9646" fill="#2f9646" fill-opacity="0.1"/></g>
<text x="686.8" y="178.73" font-size="11.2">50</text>
<circle cx="701.8" cy="171.8" r="1.0" fill="none" stroke="#4a4a4a" stroke-width="0.6"/>
<text class="dc" x="702.7" y="179" font-size="12.6">C</text>
<g fill="none" stroke-width="1.05"><path d="M658.2 190.3H683.3" stroke="#ee2c38"/><path d="M668.16 188.77H673.44L670.8 193.08Z" stroke="#ee2c38" fill="#ee2c38" fill-opacity="0.12"/></g>
<text x="686.8" y="194.33" font-size="11.2">70</text>
<circle cx="701.8" cy="187.4" r="1.0" fill="none" stroke="#4a4a4a" stroke-width="0.6"/>
<text class="dc" x="702.7" y="194.6" font-size="12.6">C</text>
<g fill="none" stroke-width="1.05"><path d="M658.2 206.4H683.3" stroke="#25c8bc"/><path d="M668.16 207.79H673.44L670.8 203.53Z" stroke="#25c8bc" fill="#25c8bc" fill-opacity="0.12"/></g>
<text x="686.8" y="210.43" font-size="11.2">90</text>
<circle cx="701.8" cy="203.5" r="1.0" fill="none" stroke="#4a4a4a" stroke-width="0.6"/>
<text class="dc" x="702.7" y="210.7" font-size="12.6">C</text>
<text x="499" y="248.5" textLength="129" lengthAdjust="spacing" font-size="11.6">Magnetic Flux Density/T</text>
<text transform="translate(371.6 180.9) rotate(-90)" textLength="138.6" lengthAdjust="spacing" font-size="11.6">Shear Loss Modulus/MPa</text>
<text x="559.2" y="273.0" text-anchor="middle" font-size="19" class="sf">(b)</text>
</svg>
</body></html>
